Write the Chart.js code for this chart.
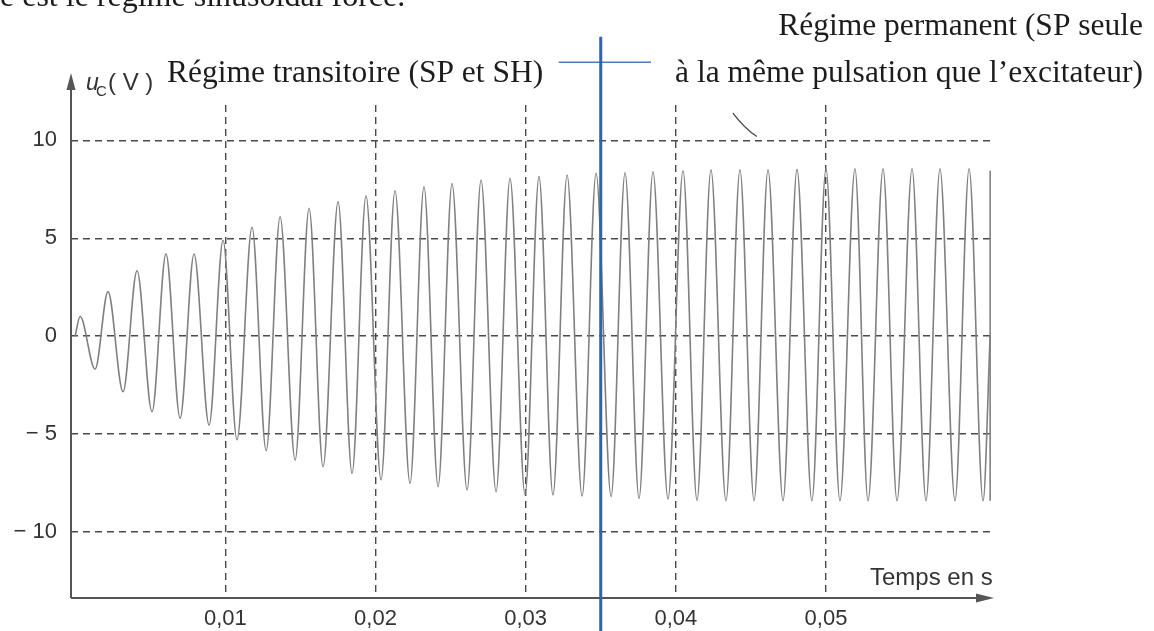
<!DOCTYPE html>
<html>
<head>
<meta charset="utf-8">
<script src="https://cdn.jsdelivr.net/npm/chart.js@4.4.1/dist/chart.umd.min.js"></script>
<style>
  html, body { margin: 0; padding: 0; background: #ffffff; }
  canvas { display: block; }
</style>
</head>
<body>
<canvas id="c" width="1154" height="631"></canvas>
<script>
// ---- Data (time in s, u_C in V; successive extrema) ----
const timeS = [0, 0.00033, 0.00133, 0.00219, 0.00319, 0.00412, 0.00512, 0.00605, 0.00699, 0.00792,
  0.00892, 0.00985, 0.01078, 0.01178, 0.01272, 0.01365, 0.01465, 0.01558, 0.01651, 0.01751,
  0.01844, 0.01937, 0.02037, 0.02130, 0.02230, 0.02323, 0.02417, 0.02510, 0.02610, 0.02703,
  0.02803, 0.02896, 0.02996, 0.03089, 0.03182, 0.03276, 0.03376, 0.03469, 0.03569, 0.03662,
  0.03755, 0.03848, 0.03948, 0.04048, 0.04141, 0.04234, 0.04334, 0.04427, 0.04521, 0.04614,
  0.04714, 0.04807, 0.04906, 0.05000, 0.05093, 0.05193, 0.05280, 0.05380, 0.05473, 0.05573,
  0.05666, 0.05759, 0.05859, 0.05953, 0.06046, 0.06093];
const uC = [0, 1.0, -1.69, 2.27, -2.85, 3.34, -3.87, 4.2, -4.2, 4.19,
  -4.55, 4.9, -5.3, 5.56, -5.86, 6.1, -6.34, 6.53, -6.68, 6.87,
  -7.02, 7.17, -7.35, 7.43, -7.53, 7.63, -7.7, 7.8, -7.87, 7.98,
  -7.96, 8.06, -8.1, 8.15, -8.13, 8.23, -8.18, 8.32, -8.2, 8.35,
  -8.3, 8.4, -8.33, 8.45, -8.4, 8.5, -8.42, 8.5, -8.42, 8.5,
  -8.42, 8.52, -8.42, 8.55, -8.42, 8.55, -8.42, 8.55, -8.42, 8.55,
  -8.42, 8.55, -8.42, 8.55, -8.42, 0];
// end of the trace (cut edge)
const cutTime = [0.06093, 0.06093];
const cutValue = [-8.42, 8.45];

const xTickValues = [0.01, 0.02, 0.03, 0.04, 0.05];
const xTickLabels = ['0,01', '0,02', '0,03', '0,04', '0,05'];
const yTickValues = [-10, -5, 0, 5, 10];
const yTickLabels = ['\u2212 10', '\u2212 5', '0', '5', '10'];

// annotation: boundary between transient and steady state
const regimeBoundary = 0.035;

const signal = timeS.map((t, i) => ({ x: t, y: uC[i] }));
const cut = cutTime.map((t, i) => ({ x: t, y: cutValue[i] }));

const SANS = '"Liberation Sans", Arial, sans-serif';
const SERIF = '"Liberation Serif", "Times New Roman", serif';

const overlay = {
  id: 'overlay',
  afterDraw(chart) {
    const { ctx, scales: { x, y }, chartArea: ca } = chart;
    ctx.save();
    // axes with arrows
    ctx.strokeStyle = '#555'; ctx.fillStyle = '#555'; ctx.lineWidth = 2;
    ctx.beginPath();
    ctx.moveTo(ca.left, ca.bottom); ctx.lineTo(ca.left, 86);
    ctx.moveTo(ca.left, ca.bottom); ctx.lineTo(980, ca.bottom);
    ctx.stroke();
    ctx.beginPath();
    ctx.moveTo(ca.left, 73); ctx.lineTo(ca.left - 4.5, 90); ctx.lineTo(ca.left + 4.5, 90); ctx.closePath();
    ctx.fill();
    ctx.beginPath();
    ctx.moveTo(994, ca.bottom); ctx.lineTo(976, ca.bottom - 4.5); ctx.lineTo(976, ca.bottom + 4.5); ctx.closePath();
    ctx.fill();

    // axis titles
    ctx.fillStyle = '#333';
    ctx.textBaseline = 'alphabetic'; ctx.textAlign = 'left';
    ctx.font = '24px ' + SANS;
    ctx.fillText('Temps en s', 870, 585);
    ctx.font = 'italic 23px ' + SANS;
    ctx.fillText('u', 86, 90);
    ctx.font = '15px ' + SANS;
    ctx.fillText('C', 96, 96);
    ctx.font = '24px ' + SANS;
    ctx.fillText('( V )', 108, 90);

    // annotations text
    ctx.fillStyle = '#1c1c1c';
    ctx.font = '31.5px ' + SERIF;
    ctx.textAlign = 'left';
    ctx.fillText('Régime transitoire (SP et SH)', 167, 82);
    ctx.textAlign = 'right';
    ctx.fillText('Régime permanent (SP seule', 1143, 35);
    ctx.fillText('à la même pulsation que l\u2019excitateur)', 1143, 82);
    ctx.textAlign = 'left';
    ctx.font = '32px ' + SERIF;
    ctx.fillText('e est le régime sinusoïdal forcé.', 0, 6);

    // pointer stroke
    ctx.strokeStyle = '#444'; ctx.lineWidth = 1.3;
    ctx.beginPath();
    ctx.moveTo(x.getPixelForValue(0.0438), y.getPixelForValue(11.4));
    ctx.quadraticCurveTo(x.getPixelForValue(0.0446), y.getPixelForValue(10.6),
                         x.getPixelForValue(0.0454), y.getPixelForValue(10.2));
    ctx.stroke();

    // blue boundary lines
    const bx = x.getPixelForValue(regimeBoundary);
    ctx.strokeStyle = '#4f7dbb'; ctx.lineWidth = 1.5;
    ctx.beginPath();
    ctx.moveTo(x.getPixelForValue(0.0322), y.getPixelForValue(14.0));
    ctx.lineTo(x.getPixelForValue(0.03835), y.getPixelForValue(14.0));
    ctx.stroke();
    ctx.strokeStyle = '#3462a8'; ctx.lineWidth = 3;
    ctx.beginPath();
    ctx.moveTo(bx, y.getPixelForValue(15.3));
    ctx.lineTo(bx, chart.height);
    ctx.stroke();
    ctx.restore();
  }
};

new Chart(document.getElementById('c'), {
  type: 'line',
  data: {
    datasets: [
      { data: signal, borderColor: '#808080', borderWidth: 1.6, pointRadius: 0,
        cubicInterpolationMode: 'monotone', fill: false },
      { data: cut, borderColor: '#808080', borderWidth: 1.6, pointRadius: 0, tension: 0, fill: false }
    ]
  },
  options: {
    responsive: false,
    animation: false,
    devicePixelRatio: 1,
    layout: { padding: { top: 105, right: 163, left: 0, bottom: 0 } },
    plugins: { legend: { display: false }, tooltip: { enabled: false } },
    scales: {
      x: {
        type: 'linear',
        min: -0.000275, max: 0.060988,
        afterBuildTicks: (s) => { s.ticks = xTickValues.map(v => ({ value: v })); },
        afterFit: (s) => { s.height = 33; },
        border: { display: false, dash: [7, 5] },
        grid: { color: '#4a4a4a', lineWidth: 1.4, drawTicks: false },
        ticks: {
          padding: 8, color: '#333', font: { family: SANS, size: 22 }, maxRotation: 0, autoSkip: false,
          callback: (v, i) => xTickLabels[i]
        }
      },
      y: {
        min: -13.39, max: 11.81,
        afterBuildTicks: (s) => { s.ticks = yTickValues.map(v => ({ value: v })); },
        afterFit: (s) => { s.width = 71; },
        border: { display: false, dash: [7, 5] },
        grid: { color: '#4a4a4a', lineWidth: 1.4, drawTicks: false },
        ticks: {
          padding: 14, color: '#333', font: { family: SANS, size: 22 }, autoSkip: false,
          callback: (v, i) => yTickLabels[i]
        }
      }
    }
  },
  plugins: [overlay]
});
</script>
</body>
</html>
